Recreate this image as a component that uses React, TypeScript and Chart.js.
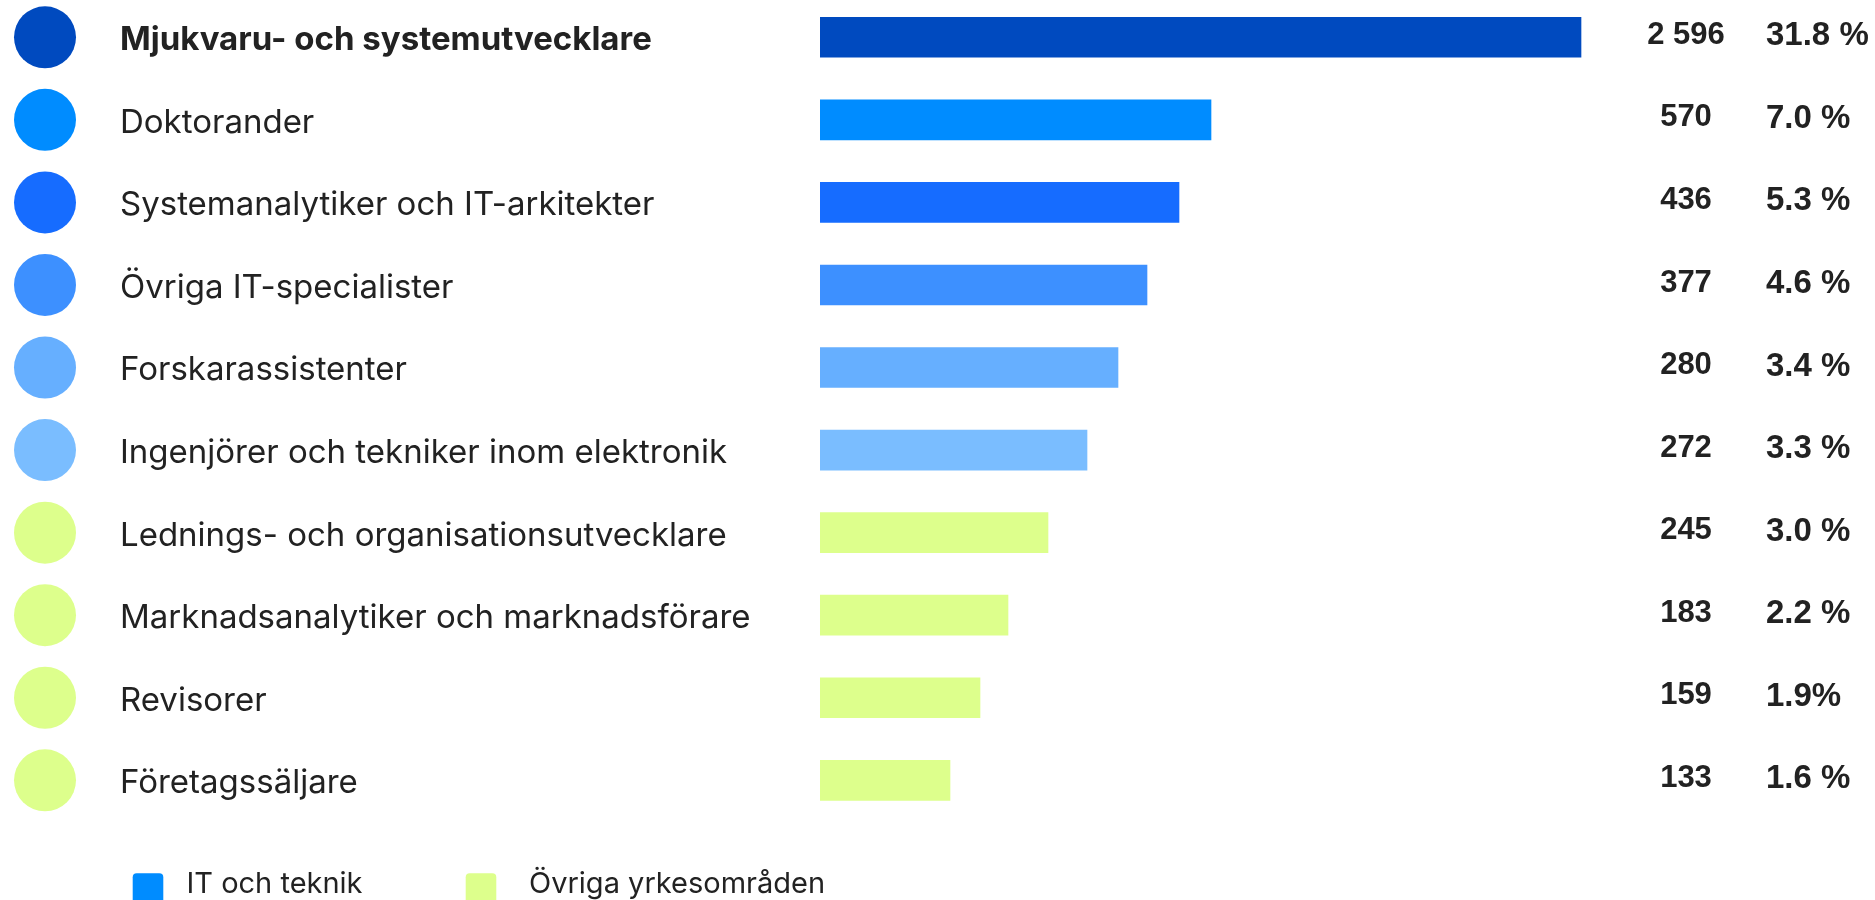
import React, { useEffect, useRef } from "react";
import { Chart, registerables } from "chart.js";

Chart.register(...registerables);

const categories: string[] = [
  "Mjukvaru- och systemutvecklare",
  "Doktorander",
  "Systemanalytiker och IT-arkitekter",
  "Övriga IT-specialister",
  "Forskarassistenter",
  "Ingenjörer och tekniker inom elektronik",
  "Lednings- och organisationsutvecklare",
  "Marknadsanalytiker och marknadsförare",
  "Revisorer",
  "Företagssäljare",
];

const countLabels: string[] = ["2 596", "570", "436", "377", "280", "272", "245", "183", "159", "133"];
const shareLabels: string[] = ["31.8 %", "7.0 %", "5.3 %", "4.6 %", "3.4 %", "3.3 %", "3.0 %", "2.2 %", "1.9%", "1.6 %"];

// Bar lengths as drawn in the picture (design units, not proportional to counts)
const barLength: number[] = [761, 391, 359, 327, 298, 267, 228, 188, 160, 130];

const rowColors: string[] = [
  "#004ABF",
  "#008CFF",
  "#166CFF",
  "#3D90FF",
  "#66AFFF",
  "#7ABDFF",
  "#DDFF8C",
  "#DDFF8C",
  "#DDFF8C",
  "#DDFF8C",
];

const legendLabels: string[] = ["IT och teknik", "Övriga yrkesområden"];
const legendColors: string[] = ["#008CFF", "#DDFF8C"];

const TEXT = "#222222";
const SHIFT = 4;

const overlayPlugin = {
  id: "overlay",
  afterDatasetsDraw(chart: any) {
    const ctx = chart.ctx as CanvasRenderingContext2D;
    const yScale = chart.scales.y;
    const labels = chart.data.labels as string[];
    ctx.save();
    labels.forEach((lab, i) => {
      const y = yScale.getPixelForValue(i);
      // circle
      ctx.beginPath();
      ctx.fillStyle = rowColors[i];
      ctx.arc(45, y, 31, 0, Math.PI * 2);
      ctx.fill();
      // label
      ctx.fillStyle = TEXT;
      ctx.textBaseline = "middle";
      ctx.textAlign = "left";
      ctx.font = (i === 0 ? "bold " : "") + "33px Inter";
      ctx.fillText(lab, 120, y + 3);
      // count
      ctx.font = "bold 31px 'Liberation Sans'";
      ctx.textAlign = "center";
      ctx.fillText(countLabels[i], 1686, y - 2);
      // share
      ctx.font = "bold 33px 'Liberation Sans'";
      ctx.textAlign = "left";
      ctx.fillText(shareLabels[i], 1766, y - 1);
    });
    // legend
    const lx = [132.7, 465.7];
    const tx = [186.5, 529];
    legendLabels.forEach((l, k) => {
      ctx.fillStyle = legendColors[k];
      ctx.beginPath();
      (ctx as any).roundRect(lx[k], 873.3 + SHIFT, 30.6, 40, 4);
      ctx.fill();
      ctx.fillStyle = TEXT;
      ctx.font = "29px Inter";
      ctx.textAlign = "left";
      ctx.textBaseline = "alphabetic";
      ctx.fillText(l, tx[k], 893 + SHIFT);
    });
    ctx.restore();
  },
};

export default function App() {
  const ref = useRef<HTMLCanvasElement | null>(null);
  useEffect(() => {
    document.body.style.margin = "0";
    const canvas = ref.current!;
    const chart = new Chart(canvas, {
      type: "bar",
      data: {
        labels: categories,
        datasets: [
          {
            data: barLength,
            backgroundColor: rowColors,
            borderWidth: 0,
            barThickness: 40,
          },
        ],
      },
      options: {
        indexAxis: "y",
        responsive: false,
        animation: false,
        layout: { padding: { left: 820, right: 55, top: 0, bottom: 78.4 } },
        scales: {
          x: { type: "linear", min: 0, max: 1000, display: false },
          y: { type: "category", display: false },
        },
        plugins: { legend: { display: false }, tooltip: { enabled: false } },
      },
      plugins: [overlayPlugin],
    });
    return () => chart.destroy();
  }, []);
  return (
    <div style={{ position: "absolute", left: 0, top: -SHIFT, width: 1875, height: 900 + SHIFT, background: "#fff" }}>
      <canvas ref={ref} width={1875} height={900 + SHIFT} style={{ width: 1875, height: 900 + SHIFT }} />
    </div>
  );
}
